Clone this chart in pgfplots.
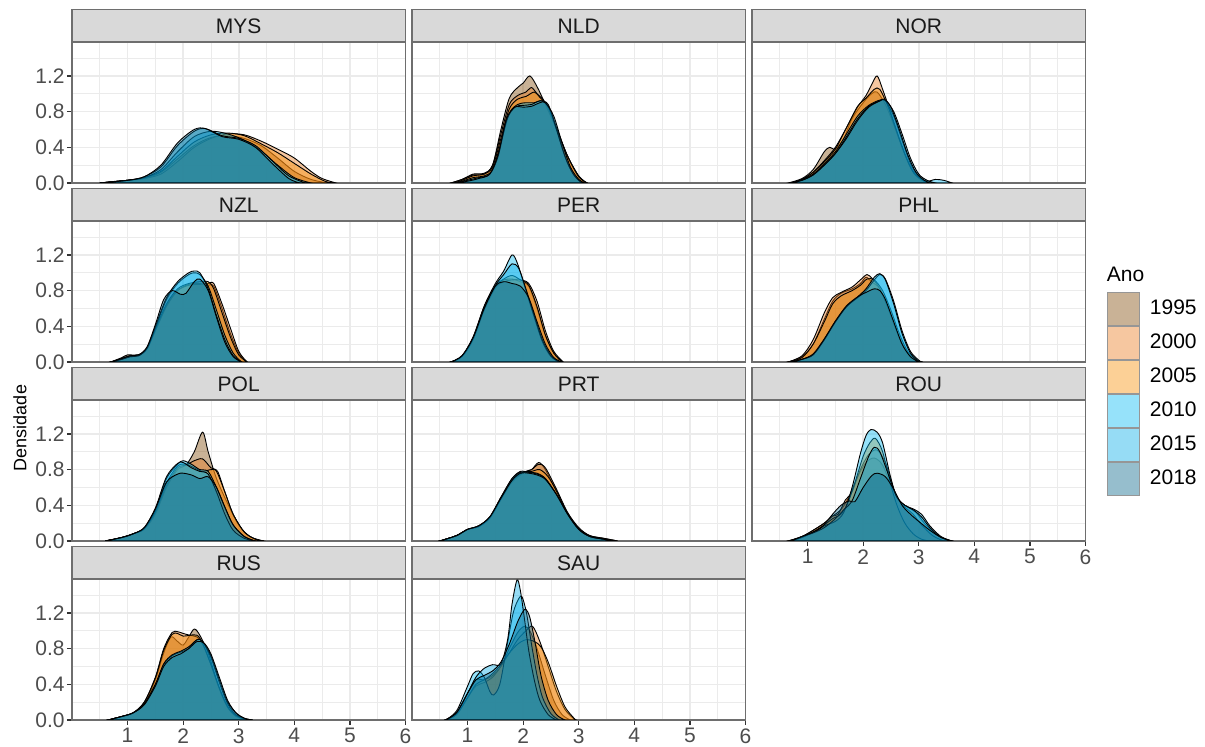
\documentclass[border=0pt]{standalone}
\usepackage{pgfplots}
\pgfplotsset{compat=1.18}
\usepackage{fontspec}
\setmainfont{Liberation Sans}
\definecolor{c1995}{RGB}{126,71,5}
\definecolor{c2000}{RGB}{233,121,29}
\definecolor{c2005}{RGB}{248,143,5}
\definecolor{c2010}{RGB}{5,186,243}
\definecolor{c2015}{RGB}{5,171,231}
\definecolor{c2018}{RGB}{5,100,136}
\definecolor{gridc}{RGB}{235,235,235}
\definecolor{borderc}{RGB}{110,110,110}
\definecolor{stripc}{RGB}{217,217,217}
\definecolor{tickc}{RGB}{51,51,51}
\definecolor{labc}{RGB}{77,77,77}
\definecolor{legb}{RGB}{150,150,150}
\pgfplotsset{
 panel/.style={
  scale only axis, width=166.75pt, height=70.25pt, anchor=south west,
  xmin=0, xmax=6, ymin=0, ymax=1.575,
  xtick={1,2,3,4,5,6}, ytick={0,0.4,0.8,1.2},
  minor xtick={0.5,1.5,2.5,3.5,4.5,5.5}, minor ytick={0.2,0.6,1.0,1.4},
  xtick pos=lower, ytick pos=left,
  grid=both,
  major grid style={color=gridc, line width=0.8pt},
  minor grid style={color=gridc, line width=0.4pt},
  axis line style={draw=borderc, line width=0.6pt},
  tick align=outside, major tick length=2.5pt, minor tick length=0pt,
  xticklabels={}, yticklabels={},
  xtick style={draw=none}, ytick style={draw=none},
  ticklabel style={font=\fontsize{10.5}{12}\selectfont, text=labc},
  xticklabel style={inner sep=1.5pt},
  yticklabel style={inner sep=1pt},
  every axis title shift=0pt,
  title style={at={(0.5,1)}, anchor=south, yshift=0pt, fill=stripc, draw=borderc,
    line width=0.6pt, minimum width=166.75pt, minimum height=16pt, inner sep=0pt,
    font=\fontsize{10.5}{12}\selectfont, text={rgb,255:red,26;green,26;blue,26}},
 },
 showx/.style={xticklabels={1,2,3,4,5,6}, xtick style={draw=tickc, line width=0.6pt}},
 showy/.style={yticklabels={0.0,0.4,0.8,1.2}, ytick style={draw=tickc, line width=0.6pt}},
 dens/.style={draw=black, line width=0.45pt, fill opacity=0.42, smooth, tension=0.5},
 y1995/.style={dens, fill=c1995},
 y2000/.style={dens, fill=c2000},
 y2005/.style={dens, fill=c2005},
 y2010/.style={dens, fill=c2010},
 y2015/.style={dens, fill=c2015},
 y2018/.style={dens, fill=c2018},
}
\begin{document}
\begin{tikzpicture}
\path[use as bounding box] (0,0) rectangle (602.5pt,-373.5pt);
% ---------- MYS
\begin{axis}[panel, showy, at={(36pt,-91.5pt)}, title={MYS}]
\addplot[y1995] coordinates {(0.5,0)(0.8,0.02)(1.0,0.03)(1.3,0.05)(1.6,0.12)(1.9,0.27)(2.2,0.42)(2.5,0.51)(2.8,0.53)(3.1,0.5)(3.4,0.42)(3.7,0.28)(4.0,0.13)(4.3,0.04)(4.6,0)} \closedcycle;
\addplot[y2000] coordinates {(0.5,0)(1.0,0.03)(1.3,0.05)(1.6,0.1)(1.9,0.24)(2.2,0.4)(2.5,0.5)(2.8,0.55)(3.1,0.54)(3.4,0.47)(3.7,0.38)(4.0,0.28)(4.3,0.13)(4.5,0.05)(4.75,0)} \closedcycle;
\addplot[y2005] coordinates {(0.5,0)(1.0,0.03)(1.3,0.06)(1.6,0.13)(1.9,0.3)(2.2,0.46)(2.5,0.54)(2.8,0.56)(3.1,0.53)(3.4,0.44)(3.7,0.34)(4.0,0.22)(4.3,0.1)(4.55,0.02)(4.7,0)} \closedcycle;
\addplot[y2010] coordinates {(0.5,0)(1.0,0.03)(1.3,0.06)(1.6,0.15)(1.9,0.35)(2.2,0.52)(2.5,0.58)(2.8,0.55)(3.1,0.48)(3.4,0.36)(3.7,0.2)(4.0,0.06)(4.3,0)} \closedcycle;
\addplot[y2015] coordinates {(0.5,0)(1.0,0.03)(1.3,0.07)(1.6,0.18)(1.9,0.42)(2.2,0.58)(2.4,0.61)(2.7,0.53)(3.0,0.5)(3.3,0.42)(3.6,0.25)(3.9,0.08)(4.2,0)} \closedcycle;
\addplot[y2018] coordinates {(0.5,0)(1.0,0.03)(1.3,0.07)(1.6,0.2)(1.9,0.45)(2.2,0.6)(2.4,0.61)(2.7,0.52)(3.0,0.49)(3.3,0.4)(3.6,0.22)(3.9,0.05)(4.1,0)} \closedcycle;
\end{axis}
% ---------- NLD
\begin{axis}[panel, at={(206pt,-91.5pt)}, title={NLD}]
\addplot[y1995] coordinates {(0.7,0)(0.9,0.04)(1.1,0.1)(1.3,0.11)(1.45,0.2)(1.6,0.6)(1.75,0.95)(1.9,1.07)(2.0,1.12)(2.12,1.2)(2.25,1.08)(2.4,0.88)(2.6,0.6)(2.8,0.3)(3.0,0.08)(3.15,0)} \closedcycle;
\addplot[y2000] coordinates {(0.7,0)(0.9,0.04)(1.1,0.09)(1.3,0.1)(1.45,0.2)(1.6,0.55)(1.75,0.88)(1.9,0.98)(2.05,1.02)(2.15,1.07)(2.25,1.0)(2.4,0.9)(2.6,0.62)(2.8,0.3)(3.0,0.07)(3.15,0)} \closedcycle;
\addplot[y2005] coordinates {(0.75,0)(0.9,0.03)(1.1,0.08)(1.3,0.1)(1.45,0.18)(1.6,0.5)(1.75,0.83)(1.9,0.94)(2.05,0.97)(2.2,1.02)(2.3,0.96)(2.45,0.85)(2.6,0.6)(2.8,0.3)(3.0,0.07)(3.15,0)} \closedcycle;
\addplot[y2010] coordinates {(0.75,0)(0.9,0.02)(1.1,0.06)(1.3,0.08)(1.45,0.15)(1.6,0.45)(1.75,0.78)(1.9,0.88)(2.05,0.9)(2.2,0.9)(2.35,0.92)(2.5,0.8)(2.65,0.5)(2.8,0.22)(2.95,0.06)(3.1,0)} \closedcycle;
\addplot[y2015] coordinates {(0.8,0)(1.0,0.03)(1.2,0.06)(1.4,0.1)(1.55,0.3)(1.7,0.7)(1.85,0.85)(2.0,0.87)(2.15,0.88)(2.3,0.92)(2.45,0.88)(2.6,0.6)(2.75,0.3)(2.9,0.1)(3.05,0)} \closedcycle;
\addplot[y2018] coordinates {(0.8,0)(1.0,0.02)(1.2,0.05)(1.4,0.1)(1.55,0.32)(1.7,0.72)(1.85,0.85)(2.0,0.85)(2.15,0.86)(2.3,0.9)(2.4,0.9)(2.55,0.75)(2.7,0.45)(2.85,0.18)(3.0,0.04)(3.1,0)} \closedcycle;
\end{axis}
% ---------- NOR
\begin{axis}[panel, at={(376pt,-91.5pt)}, title={NOR}]
\addplot[y1995] coordinates {(0.65,0)(0.9,0.05)(1.1,0.15)(1.3,0.35)(1.4,0.4)(1.5,0.38)(1.65,0.5)(1.8,0.72)(2.0,0.9)(2.15,1.0)(2.25,1.02)(2.4,0.88)(2.55,0.65)(2.7,0.4)(2.85,0.18)(3.0,0.06)(3.2,0)} \closedcycle;
\addplot[y2000] coordinates {(0.7,0)(0.9,0.04)(1.1,0.12)(1.3,0.25)(1.5,0.4)(1.7,0.62)(1.9,0.85)(2.05,0.98)(2.15,1.1)(2.25,1.2)(2.35,1.05)(2.5,0.78)(2.65,0.5)(2.8,0.25)(2.95,0.08)(3.15,0)} \closedcycle;
\addplot[y2005] coordinates {(0.7,0)(0.9,0.04)(1.1,0.12)(1.3,0.24)(1.5,0.38)(1.7,0.62)(1.9,0.86)(2.05,0.95)(2.2,1.05)(2.3,1.05)(2.45,0.85)(2.6,0.58)(2.75,0.32)(2.9,0.12)(3.1,0.02)(3.2,0)} \closedcycle;
\addplot[y2010] coordinates {(0.7,0)(0.9,0.04)(1.1,0.1)(1.3,0.22)(1.5,0.35)(1.7,0.55)(1.9,0.75)(2.1,0.87)(2.3,0.93)(2.4,0.92)(2.55,0.75)(2.7,0.48)(2.85,0.22)(3.0,0.07)(3.15,0.02)(3.3,0.04)(3.45,0.03)(3.6,0)} \closedcycle;
\addplot[y2015] coordinates {(0.7,0)(0.9,0.03)(1.1,0.09)(1.3,0.2)(1.5,0.33)(1.7,0.52)(1.9,0.72)(2.1,0.86)(2.3,0.92)(2.4,0.93)(2.55,0.8)(2.7,0.55)(2.85,0.28)(3.0,0.1)(3.15,0.03)(3.3,0)} \closedcycle;
\addplot[y2018] coordinates {(0.7,0)(0.9,0.03)(1.1,0.09)(1.3,0.2)(1.5,0.33)(1.7,0.5)(1.9,0.7)(2.1,0.85)(2.3,0.92)(2.38,0.94)(2.5,0.85)(2.65,0.6)(2.8,0.32)(2.95,0.12)(3.1,0.03)(3.2,0)} \closedcycle;
\end{axis}
% ---------- NZL
\begin{axis}[panel, showy, at={(36pt,-181pt)}, title={NZL}]
\addplot[y1995] coordinates {(0.7,0)(0.9,0.05)(1.0,0.08)(1.2,0.08)(1.35,0.15)(1.5,0.35)(1.7,0.62)(1.9,0.8)(2.1,0.87)(2.3,0.88)(2.45,0.86)(2.55,0.85)(2.7,0.6)(2.85,0.32)(3.0,0.1)(3.15,0)} \closedcycle;
\addplot[y2000] coordinates {(0.7,0)(0.9,0.04)(1.05,0.07)(1.2,0.08)(1.35,0.15)(1.5,0.35)(1.7,0.63)(1.9,0.8)(2.1,0.86)(2.3,0.87)(2.45,0.88)(2.55,0.88)(2.7,0.65)(2.85,0.38)(3.0,0.12)(3.15,0)} \closedcycle;
\addplot[y2005] coordinates {(0.7,0)(0.9,0.04)(1.05,0.07)(1.2,0.08)(1.35,0.15)(1.5,0.37)(1.7,0.65)(1.9,0.82)(2.1,0.88)(2.3,0.9)(2.45,0.9)(2.55,0.82)(2.7,0.55)(2.85,0.28)(3.0,0.08)(3.15,0)} \closedcycle;
\addplot[y2010] coordinates {(0.7,0)(0.9,0.03)(1.05,0.06)(1.2,0.07)(1.35,0.15)(1.5,0.38)(1.7,0.7)(1.9,0.88)(2.1,0.98)(2.2,1.0)(2.3,0.98)(2.45,0.85)(2.6,0.58)(2.75,0.3)(2.9,0.1)(3.05,0)} \closedcycle;
\addplot[y2015] coordinates {(0.7,0)(0.9,0.03)(1.05,0.06)(1.2,0.07)(1.35,0.16)(1.5,0.4)(1.7,0.72)(1.9,0.9)(2.1,1.0)(2.2,1.02)(2.3,1.0)(2.45,0.82)(2.6,0.52)(2.75,0.25)(2.9,0.07)(3.05,0)} \closedcycle;
\addplot[y2018] coordinates {(0.7,0)(0.9,0.04)(1.05,0.07)(1.2,0.08)(1.35,0.17)(1.5,0.42)(1.65,0.7)(1.8,0.8)(1.95,0.76)(2.05,0.77)(2.2,0.9)(2.3,0.93)(2.45,0.8)(2.6,0.5)(2.75,0.22)(2.9,0.06)(3.05,0)} \closedcycle;
\end{axis}
% ---------- PER
\begin{axis}[panel, at={(206pt,-181pt)}, title={PER}]
\addplot[y1995] coordinates {(0.7,0)(0.9,0.06)(1.1,0.25)(1.3,0.6)(1.5,0.85)(1.65,0.92)(1.8,0.93)(1.95,0.9)(2.1,0.85)(2.25,0.6)(2.4,0.3)(2.55,0.1)(2.7,0)} \closedcycle;
\addplot[y2000] coordinates {(0.7,0)(0.9,0.06)(1.1,0.25)(1.3,0.58)(1.5,0.83)(1.65,0.9)(1.8,0.92)(1.95,0.92)(2.1,0.88)(2.25,0.68)(2.4,0.35)(2.55,0.12)(2.72,0)} \closedcycle;
\addplot[y2005] coordinates {(0.7,0)(0.9,0.06)(1.1,0.26)(1.3,0.6)(1.5,0.85)(1.65,0.93)(1.8,0.97)(1.95,0.92)(2.1,0.86)(2.25,0.62)(2.4,0.3)(2.55,0.1)(2.7,0)} \closedcycle;
\addplot[y2010] coordinates {(0.7,0)(0.9,0.07)(1.1,0.28)(1.3,0.63)(1.5,0.88)(1.65,1.02)(1.8,1.2)(1.9,1.1)(2.05,0.8)(2.2,0.5)(2.35,0.22)(2.5,0.06)(2.65,0)} \closedcycle;
\addplot[y2015] coordinates {(0.7,0)(0.9,0.07)(1.1,0.28)(1.3,0.62)(1.5,0.86)(1.65,0.98)(1.8,1.1)(1.92,1.05)(2.05,0.82)(2.2,0.52)(2.35,0.24)(2.5,0.07)(2.65,0)} \closedcycle;
\addplot[y2018] coordinates {(0.7,0)(0.9,0.07)(1.1,0.27)(1.3,0.6)(1.5,0.85)(1.65,0.9)(1.8,0.88)(1.95,0.85)(2.1,0.72)(2.25,0.45)(2.4,0.2)(2.55,0.05)(2.7,0)} \closedcycle;
\end{axis}
% ---------- PHL
\begin{axis}[panel, at={(376pt,-181pt)}, title={PHL}, clip mode=individual,
  legend image code/.code={\draw[#1, draw=legb, line width=0.5pt] (0pt,-8.25pt) rectangle (16pt,8.25pt);},
  legend style={at={(1.063,0.5)}, anchor=north west, draw=none, fill=none, inner sep=0pt,
    row sep=0pt, column sep=5pt, font=\fontsize{10.5}{12}\selectfont, nodes={inner sep=0pt}},
  legend cell align=left]
\addplot[y1995] coordinates {(0.65,0)(0.9,0.06)(1.1,0.2)(1.3,0.48)(1.45,0.68)(1.6,0.77)(1.8,0.82)(1.95,0.88)(2.05,0.95)(2.15,0.9)(2.3,0.82)(2.45,0.6)(2.6,0.35)(2.75,0.15)(2.9,0.04)(3.05,0)} \closedcycle;
\addlegendentry{1995}
\addplot[y2000] coordinates {(0.65,0)(0.9,0.07)(1.1,0.25)(1.3,0.55)(1.45,0.72)(1.6,0.78)(1.8,0.84)(1.95,0.92)(2.07,0.98)(2.17,0.93)(2.3,0.82)(2.45,0.6)(2.6,0.35)(2.75,0.15)(2.9,0.04)(3.05,0)} \closedcycle;
\addlegendentry{2000}
\addplot[y2005] coordinates {(0.65,0)(0.9,0.05)(1.1,0.2)(1.3,0.45)(1.45,0.65)(1.6,0.74)(1.8,0.8)(1.95,0.86)(2.07,0.93)(2.2,0.92)(2.35,0.8)(2.5,0.58)(2.65,0.32)(2.8,0.12)(2.95,0.03)(3.05,0)} \closedcycle;
\addlegendentry{2005}
\addplot[y2010] coordinates {(0.7,0)(0.9,0.03)(1.1,0.08)(1.3,0.25)(1.5,0.45)(1.7,0.62)(1.9,0.72)(2.05,0.8)(2.2,0.92)(2.3,0.98)(2.4,0.93)(2.55,0.68)(2.7,0.35)(2.85,0.12)(3.0,0.02)(3.05,0)} \closedcycle;
\addlegendentry{2010}
\addplot[y2015] coordinates {(0.7,0)(0.9,0.03)(1.1,0.08)(1.3,0.25)(1.5,0.45)(1.7,0.62)(1.9,0.73)(2.05,0.82)(2.2,0.95)(2.3,0.99)(2.4,0.92)(2.55,0.65)(2.7,0.32)(2.85,0.1)(3.0,0)} \closedcycle;
\addlegendentry{2015}
\addplot[y2018] coordinates {(0.7,0)(0.9,0.03)(1.1,0.09)(1.3,0.26)(1.5,0.46)(1.7,0.63)(1.9,0.73)(2.05,0.78)(2.2,0.82)(2.3,0.8)(2.4,0.7)(2.55,0.45)(2.7,0.2)(2.85,0.06)(3.0,0)} \closedcycle;
\addlegendentry{2018}
\node[anchor=west, font=\fontsize{10.5}{12}\selectfont, inner sep=0pt] at (rel axis cs:1.063,0.621) {Ano};
\end{axis}
% ---------- POL
\begin{axis}[panel, showy, at={(36pt,-270.5pt)}, title={POL}]
\addplot[y1995] coordinates {(0.6,0)(0.9,0.04)(1.1,0.08)(1.3,0.13)(1.5,0.3)(1.7,0.6)(1.9,0.8)(2.05,0.85)(2.2,1.0)(2.35,1.22)(2.45,1.0)(2.6,0.7)(2.8,0.42)(3.0,0.18)(3.2,0.05)(3.45,0)} \closedcycle;
\addplot[y2000] coordinates {(0.6,0)(0.9,0.04)(1.1,0.08)(1.3,0.14)(1.5,0.32)(1.7,0.62)(1.9,0.82)(2.05,0.85)(2.2,0.9)(2.35,0.92)(2.5,0.82)(2.62,0.78)(2.75,0.55)(2.9,0.3)(3.1,0.1)(3.3,0.02)(3.45,0)} \closedcycle;
\addplot[y2005] coordinates {(0.6,0)(0.9,0.04)(1.1,0.08)(1.3,0.14)(1.5,0.33)(1.7,0.65)(1.9,0.84)(2.05,0.86)(2.2,0.82)(2.35,0.78)(2.5,0.8)(2.6,0.78)(2.75,0.55)(2.9,0.3)(3.1,0.1)(3.3,0.02)(3.45,0)} \closedcycle;
\addplot[y2010] coordinates {(0.6,0)(0.9,0.04)(1.1,0.08)(1.3,0.14)(1.5,0.35)(1.7,0.7)(1.9,0.86)(2.0,0.9)(2.15,0.86)(2.3,0.8)(2.45,0.78)(2.6,0.6)(2.75,0.38)(2.9,0.18)(3.1,0.05)(3.3,0)} \closedcycle;
\addplot[y2015] coordinates {(0.6,0)(0.9,0.04)(1.1,0.08)(1.3,0.15)(1.5,0.37)(1.7,0.72)(1.9,0.87)(2.0,0.88)(2.15,0.82)(2.3,0.78)(2.45,0.75)(2.6,0.55)(2.75,0.3)(2.9,0.12)(3.1,0.03)(3.3,0)} \closedcycle;
\addplot[y2018] coordinates {(0.6,0)(0.9,0.04)(1.1,0.08)(1.3,0.15)(1.5,0.36)(1.7,0.66)(1.9,0.75)(2.0,0.76)(2.15,0.74)(2.3,0.7)(2.45,0.72)(2.6,0.6)(2.75,0.38)(2.9,0.18)(3.1,0.05)(3.3,0)} \closedcycle;
\end{axis}
% ---------- PRT
\begin{axis}[panel, at={(206pt,-270.5pt)}, title={PRT}]
\addplot[y1995] coordinates {(0.5,0)(0.8,0.06)(1.0,0.13)(1.2,0.16)(1.4,0.25)(1.6,0.46)(1.8,0.66)(2.0,0.76)(2.15,0.8)(2.28,0.88)(2.4,0.8)(2.6,0.55)(2.8,0.3)(3.0,0.14)(3.2,0.06)(3.45,0.03)(3.7,0)} \closedcycle;
\addplot[y2000] coordinates {(0.5,0)(0.8,0.06)(1.0,0.13)(1.2,0.16)(1.4,0.26)(1.6,0.47)(1.8,0.67)(2.0,0.77)(2.15,0.8)(2.28,0.86)(2.4,0.82)(2.6,0.58)(2.8,0.32)(3.0,0.15)(3.2,0.06)(3.45,0.03)(3.7,0)} \closedcycle;
\addplot[y2005] coordinates {(0.5,0)(0.8,0.06)(1.0,0.13)(1.2,0.16)(1.4,0.26)(1.6,0.47)(1.8,0.68)(2.0,0.77)(2.15,0.78)(2.3,0.8)(2.45,0.72)(2.6,0.56)(2.8,0.31)(3.0,0.14)(3.2,0.05)(3.45,0.02)(3.65,0)} \closedcycle;
\addplot[y2010] coordinates {(0.5,0)(0.8,0.06)(1.0,0.13)(1.2,0.17)(1.4,0.27)(1.6,0.49)(1.8,0.7)(1.95,0.78)(2.1,0.77)(2.25,0.76)(2.4,0.7)(2.6,0.52)(2.8,0.3)(3.0,0.13)(3.2,0.05)(3.45,0.02)(3.6,0)} \closedcycle;
\addplot[y2015] coordinates {(0.5,0)(0.8,0.06)(1.0,0.13)(1.2,0.17)(1.4,0.27)(1.6,0.49)(1.8,0.7)(1.95,0.77)(2.1,0.77)(2.25,0.75)(2.4,0.7)(2.6,0.52)(2.8,0.3)(3.0,0.13)(3.2,0.05)(3.45,0.02)(3.6,0)} \closedcycle;
\addplot[y2018] coordinates {(0.5,0)(0.8,0.06)(1.0,0.13)(1.2,0.17)(1.4,0.27)(1.6,0.48)(1.8,0.68)(1.95,0.76)(2.1,0.76)(2.25,0.74)(2.4,0.69)(2.6,0.52)(2.8,0.3)(3.0,0.13)(3.2,0.05)(3.45,0.02)(3.6,0)} \closedcycle;
\end{axis}
% ---------- ROU
\begin{axis}[panel, showx, at={(376pt,-270.5pt)}, title={ROU}]
\addplot[y1995] coordinates {(0.65,0)(0.9,0.05)(1.1,0.12)(1.3,0.2)(1.45,0.28)(1.6,0.35)(1.75,0.5)(1.9,0.72)(2.05,0.88)(2.2,0.93)(2.35,0.85)(2.5,0.62)(2.65,0.45)(2.8,0.38)(2.95,0.32)(3.1,0.2)(3.3,0.08)(3.55,0)} \closedcycle;
\addplot[y2000] coordinates {(0.65,0)(0.9,0.05)(1.1,0.12)(1.3,0.2)(1.45,0.28)(1.55,0.3)(1.68,0.46)(1.8,0.55)(1.95,0.8)(2.1,0.97)(2.25,1.02)(2.4,0.88)(2.5,0.68)(2.6,0.5)(2.75,0.38)(2.9,0.3)(3.05,0.18)(3.25,0.06)(3.45,0)} \closedcycle;
\addplot[y2005] coordinates {(0.65,0)(0.9,0.04)(1.1,0.1)(1.3,0.18)(1.45,0.25)(1.6,0.3)(1.72,0.42)(1.85,0.65)(2.0,0.95)(2.12,1.1)(2.22,1.15)(2.35,1.0)(2.5,0.62)(2.62,0.38)(2.75,0.2)(2.9,0.08)(3.05,0.02)(3.2,0)} \closedcycle;
\addplot[y2010] coordinates {(0.7,0)(0.9,0.04)(1.1,0.1)(1.3,0.17)(1.5,0.22)(1.65,0.32)(1.8,0.6)(1.95,0.98)(2.05,1.18)(2.14,1.25)(2.25,1.22)(2.35,1.1)(2.48,0.75)(2.6,0.5)(2.75,0.4)(2.9,0.36)(3.05,0.3)(3.2,0.17)(3.4,0.05)(3.6,0)} \closedcycle;
\addplot[y2015] coordinates {(0.7,0)(0.9,0.05)(1.1,0.09)(1.3,0.15)(1.5,0.25)(1.65,0.35)(1.8,0.45)(1.95,0.7)(2.1,0.95)(2.2,1.05)(2.3,1.0)(2.45,0.75)(2.6,0.5)(2.75,0.4)(2.9,0.35)(3.05,0.27)(3.2,0.15)(3.4,0.04)(3.6,0)} \closedcycle;
\addplot[y2018] coordinates {(0.7,0)(0.9,0.05)(1.1,0.1)(1.25,0.15)(1.45,0.3)(1.6,0.4)(1.75,0.45)(1.85,0.44)(2.0,0.6)(2.15,0.73)(2.25,0.76)(2.4,0.72)(2.55,0.58)(2.7,0.4)(2.85,0.3)(3.0,0.22)(3.2,0.12)(3.4,0.04)(3.6,0)} \closedcycle;
\end{axis}
% ---------- RUS
\begin{axis}[panel, showx, showy, at={(36pt,-360pt)}, title={RUS}]
\addplot[y1995] coordinates {(0.65,0)(0.9,0.04)(1.1,0.08)(1.3,0.18)(1.5,0.45)(1.65,0.75)(1.78,0.93)(1.9,0.88)(2.0,0.84)(2.1,0.93)(2.2,1.02)(2.3,0.95)(2.45,0.75)(2.6,0.45)(2.75,0.2)(2.9,0.07)(3.1,0.01)(3.25,0)} \closedcycle;
\addplot[y2000] coordinates {(0.65,0)(0.9,0.04)(1.1,0.08)(1.3,0.2)(1.5,0.48)(1.65,0.8)(1.8,0.98)(1.9,0.99)(2.0,0.97)(2.12,0.95)(2.25,0.93)(2.35,0.85)(2.5,0.62)(2.65,0.35)(2.8,0.14)(2.95,0.04)(3.15,0)} \closedcycle;
\addplot[y2005] coordinates {(0.65,0)(0.9,0.04)(1.1,0.08)(1.3,0.2)(1.5,0.47)(1.65,0.78)(1.8,0.96)(1.9,0.97)(2.0,0.94)(2.12,0.95)(2.25,0.95)(2.35,0.86)(2.5,0.62)(2.65,0.36)(2.8,0.15)(2.95,0.05)(3.15,0)} \closedcycle;
\addplot[y2010] coordinates {(0.65,0)(0.9,0.04)(1.1,0.08)(1.3,0.18)(1.5,0.4)(1.65,0.62)(1.8,0.72)(1.95,0.76)(2.1,0.8)(2.25,0.9)(2.35,0.88)(2.5,0.7)(2.65,0.42)(2.8,0.18)(2.95,0.06)(3.15,0)} \closedcycle;
\addplot[y2015] coordinates {(0.65,0)(0.9,0.04)(1.1,0.08)(1.3,0.18)(1.5,0.4)(1.65,0.63)(1.8,0.73)(1.95,0.77)(2.1,0.82)(2.25,0.9)(2.35,0.88)(2.5,0.72)(2.65,0.45)(2.8,0.2)(2.95,0.08)(3.1,0.02)(3.25,0)} \closedcycle;
\addplot[y2018] coordinates {(0.65,0)(0.9,0.04)(1.1,0.08)(1.3,0.17)(1.5,0.38)(1.65,0.6)(1.8,0.7)(1.95,0.74)(2.1,0.8)(2.25,0.88)(2.38,0.86)(2.5,0.74)(2.65,0.48)(2.8,0.22)(2.95,0.08)(3.1,0.02)(3.25,0)} \closedcycle;
\end{axis}
% ---------- SAU
\begin{axis}[panel, showx, at={(206pt,-360pt)}, title={SAU}]
\addplot[y1995] coordinates {(0.6,0)(0.8,0.08)(1.0,0.3)(1.15,0.45)(1.3,0.45)(1.45,0.5)(1.6,0.6)(1.75,0.8)(1.9,0.98)(2.02,1.05)(2.12,1.0)(2.25,0.8)(2.4,0.5)(2.55,0.22)(2.7,0.06)(2.85,0)} \closedcycle;
\addplot[y2000] coordinates {(0.6,0)(0.8,0.06)(1.0,0.25)(1.15,0.38)(1.3,0.42)(1.45,0.48)(1.6,0.6)(1.75,0.75)(1.9,0.9)(2.05,1.0)(2.17,1.05)(2.3,0.88)(2.45,0.6)(2.6,0.32)(2.75,0.12)(2.9,0.02)(2.95,0)} \closedcycle;
\addplot[y2005] coordinates {(0.6,0)(0.8,0.06)(1.0,0.25)(1.15,0.4)(1.3,0.45)(1.45,0.52)(1.6,0.62)(1.75,0.75)(1.9,0.85)(2.05,0.9)(2.2,0.88)(2.32,0.82)(2.45,0.65)(2.6,0.38)(2.75,0.15)(2.9,0.03)(2.95,0)} \closedcycle;
\addplot[y2010] coordinates {(0.6,0)(0.8,0.1)(1.0,0.38)(1.1,0.52)(1.2,0.55)(1.3,0.48)(1.4,0.32)(1.47,0.28)(1.58,0.4)(1.7,0.8)(1.82,1.2)(1.92,1.36)(1.98,1.38)(2.06,1.2)(2.15,0.85)(2.25,0.5)(2.35,0.25)(2.5,0.07)(2.65,0)} \closedcycle;
\addplot[y2015] coordinates {(0.6,0)(0.8,0.08)(1.0,0.3)(1.15,0.48)(1.3,0.58)(1.45,0.62)(1.6,0.63)(1.72,0.9)(1.8,1.3)(1.89,1.57)(1.95,1.45)(2.02,1.15)(2.1,0.78)(2.2,0.45)(2.3,0.22)(2.45,0.06)(2.6,0)} \closedcycle;
\addplot[y2018] coordinates {(0.6,0)(0.8,0.08)(1.0,0.3)(1.15,0.45)(1.3,0.5)(1.45,0.55)(1.6,0.65)(1.75,0.85)(1.9,1.1)(2.0,1.22)(2.05,1.24)(2.12,1.15)(2.22,0.85)(2.32,0.5)(2.45,0.22)(2.6,0.06)(2.75,0)} \closedcycle;
\end{axis}
\node[rotate=90, font=\fontsize{9}{10.5}\selectfont] at (10pt,-214pt) {Densidade};
\end{tikzpicture}
\end{document}
